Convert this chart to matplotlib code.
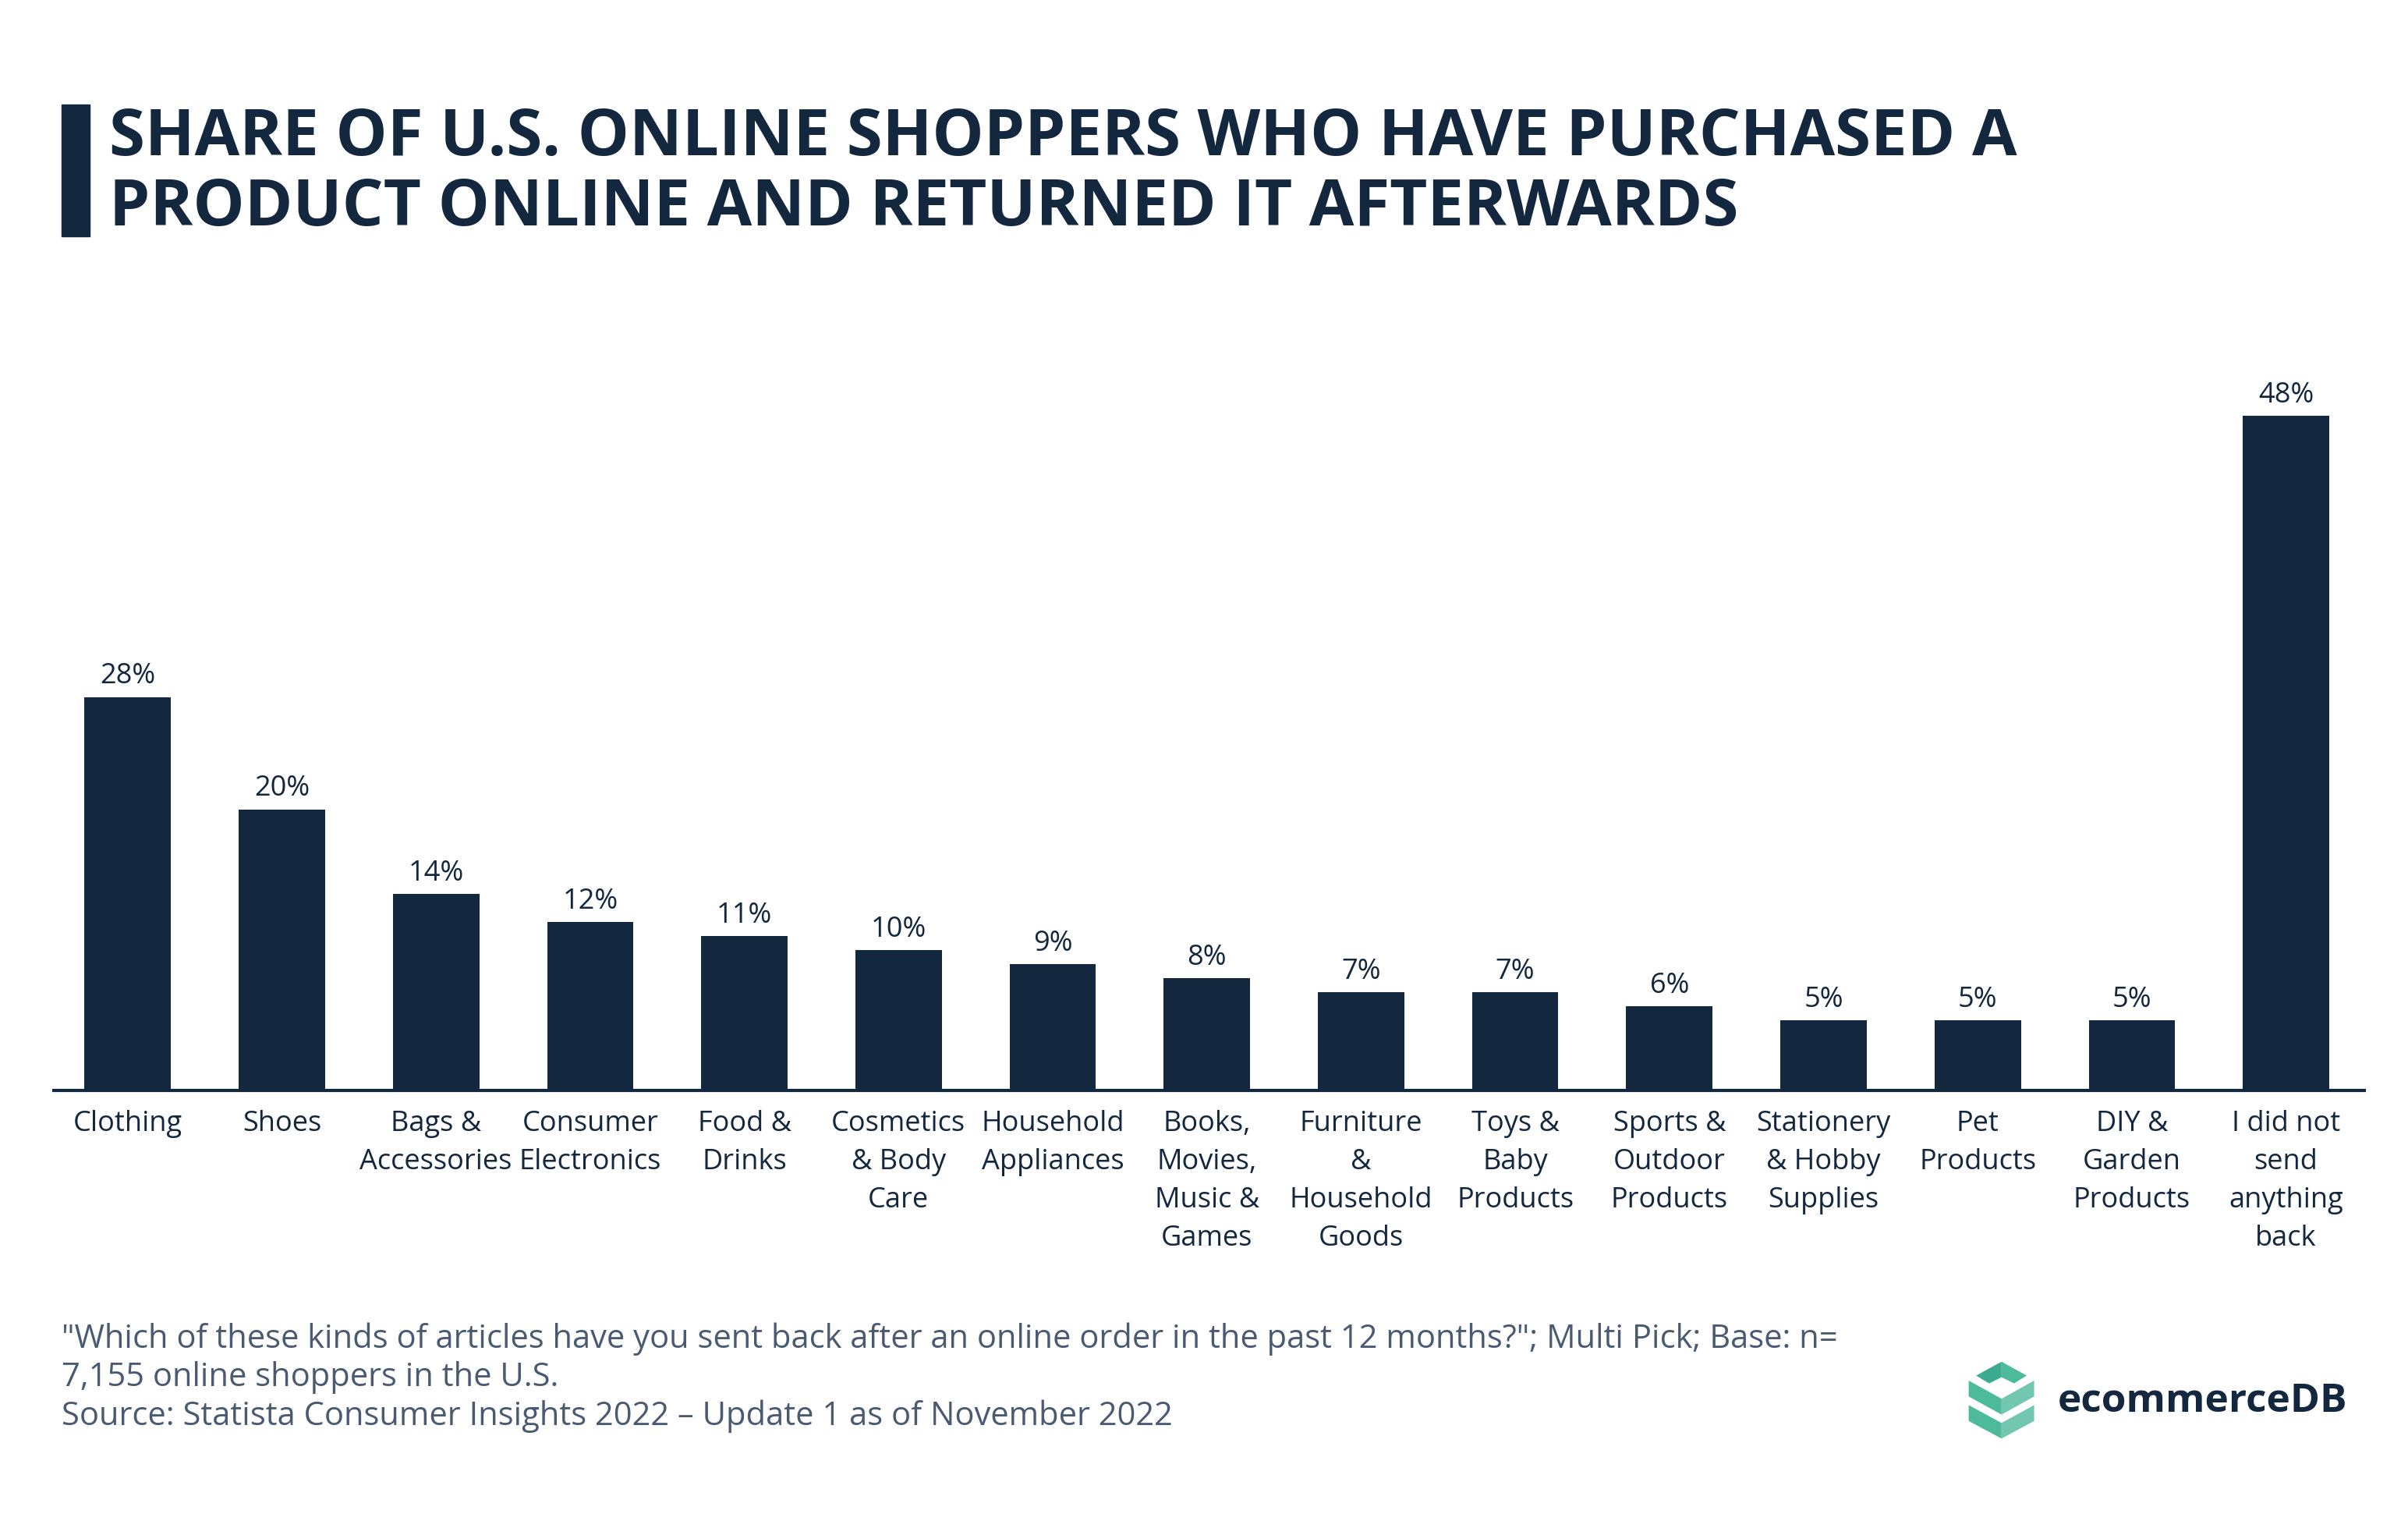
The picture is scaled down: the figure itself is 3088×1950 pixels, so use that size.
"""
Share of U.S. online shoppers who returned products, ecommerceDB style bar chart
"""
import matplotlib
matplotlib.use("Agg")
import matplotlib.pyplot as plt
from matplotlib.patches import Polygon, Rectangle

NAVY = "#13273f"
FOOT = "#4a5a72"

categories = ["Clothing", "Shoes", "Bags &\nAccessories", "Consumer\nElectronics",
              "Food &\nDrinks", "Cosmetics\n& Body\nCare", "Household\nAppliances",
              "Books,\nMovies,\nMusic &\nGames", "Furniture\n&\nHousehold\nGoods",
              "Toys &\nBaby\nProducts", "Sports &\nOutdoor\nProducts",
              "Stationery\n& Hobby\nSupplies", "Pet\nProducts", "DIY &\nGarden\nProducts",
              "I did not\nsend\nanything\nback"]
shares = [28, 20, 14, 12, 11, 10, 9, 8, 7, 7, 6, 5, 5, 5, 48]

title_lines = ["SHARE OF U.S. ONLINE SHOPPERS WHO HAVE PURCHASED A",
               "PRODUCT ONLINE AND RETURNED IT AFTERWARDS"]
footnote = ('"Which of these kinds of articles have you sent back after an online order in the past 12 months?"; Multi Pick; Base: n=\n'
            '7,155 online shoppers in the U.S.\n'
            'Source: Statista Consumer Insights 2022 \u2013 Update 1 as of November 2022')

plt.rcParams['font.family'] = ['Open Sans', 'DejaVu Sans']

W, H = 3088, 1950
fig = plt.figure(figsize=(W / 100, H / 100), dpi=100)

# main bar chart
ax = fig.add_axes([0.0223, 0.283, 0.982 - 0.0223, 0.745 - 0.283])
x = list(range(len(shares)))
bars = ax.bar(x, shares, width=0.56, color=NAVY)
ax.set_xlim(-0.48, len(shares) - 0.49)
ax.set_ylim(0, 50)
for b, v in zip(bars, shares):
    ax.annotate(f"{v}%", (b.get_x() + b.get_width() / 2, v), xytext=(0, 6),
                textcoords="offset points", ha="center", va="bottom",
                fontsize=26, color=NAVY)
ax.set_xticks(x)
ax.set_xticklabels(categories, fontsize=26, color=NAVY, linespacing=1.48, va="top")
ax.tick_params(axis="x", length=0, pad=18)
ax.set_yticks([])
for side in ["top", "right", "left"]:
    ax.spines[side].set_visible(False)
ax.spines["bottom"].set_color(NAVY)
ax.spines["bottom"].set_linewidth(3)

# overlay in pixel coordinates for title bar and logo
ov = fig.add_axes([0, 0, 1, 1], zorder=-1)
ov.set_xlim(0, W)
ov.set_ylim(H, 0)
ov.axis("off")

ov.add_patch(Rectangle((79, 134), 36, 169, color=NAVY))
ov.text(140, 177, title_lines[0], fontsize=60, fontweight="bold", color=NAVY, va="center", ha="left")
ov.text(140, 267, title_lines[1], fontsize=60, fontweight="bold", color=NAVY, va="center", ha="left")

ov.text(79, 1766, footnote, fontsize=30, color=FOOT, va="center", ha="left", linespacing=1.23)

# logo icon
def pt(px, py):
    return (2480 + px / 2.8, 1720 + py / 2.8)

c_dark, c_mid, c_light = "#3aab8e", "#4cba9b", "#73c6af"
shapes = [
    ([(152, 122), (243, 72), (243, 128), (198, 150)], c_dark),
    ([(243, 72), (333, 122), (288, 150), (243, 128)], c_mid),
    ([(125, 140), (243, 205), (243, 262), (125, 197)], c_mid),
    ([(243, 205), (360, 140), (360, 197), (243, 262)], c_light),
    ([(125, 228), (243, 292), (243, 348), (125, 285)], c_mid),
    ([(243, 292), (360, 228), (360, 285), (243, 348)], c_light),
]
for pts, col in shapes:
    ov.add_patch(Polygon([pt(*p) for p in pts], closed=True, color=col, lw=0))
ov.text(2639, 1797, "ecommerceDB", fontsize=37, fontweight="bold", color=NAVY, va="center", ha="left")

fig.savefig("out.png", dpi=100, facecolor="white")
